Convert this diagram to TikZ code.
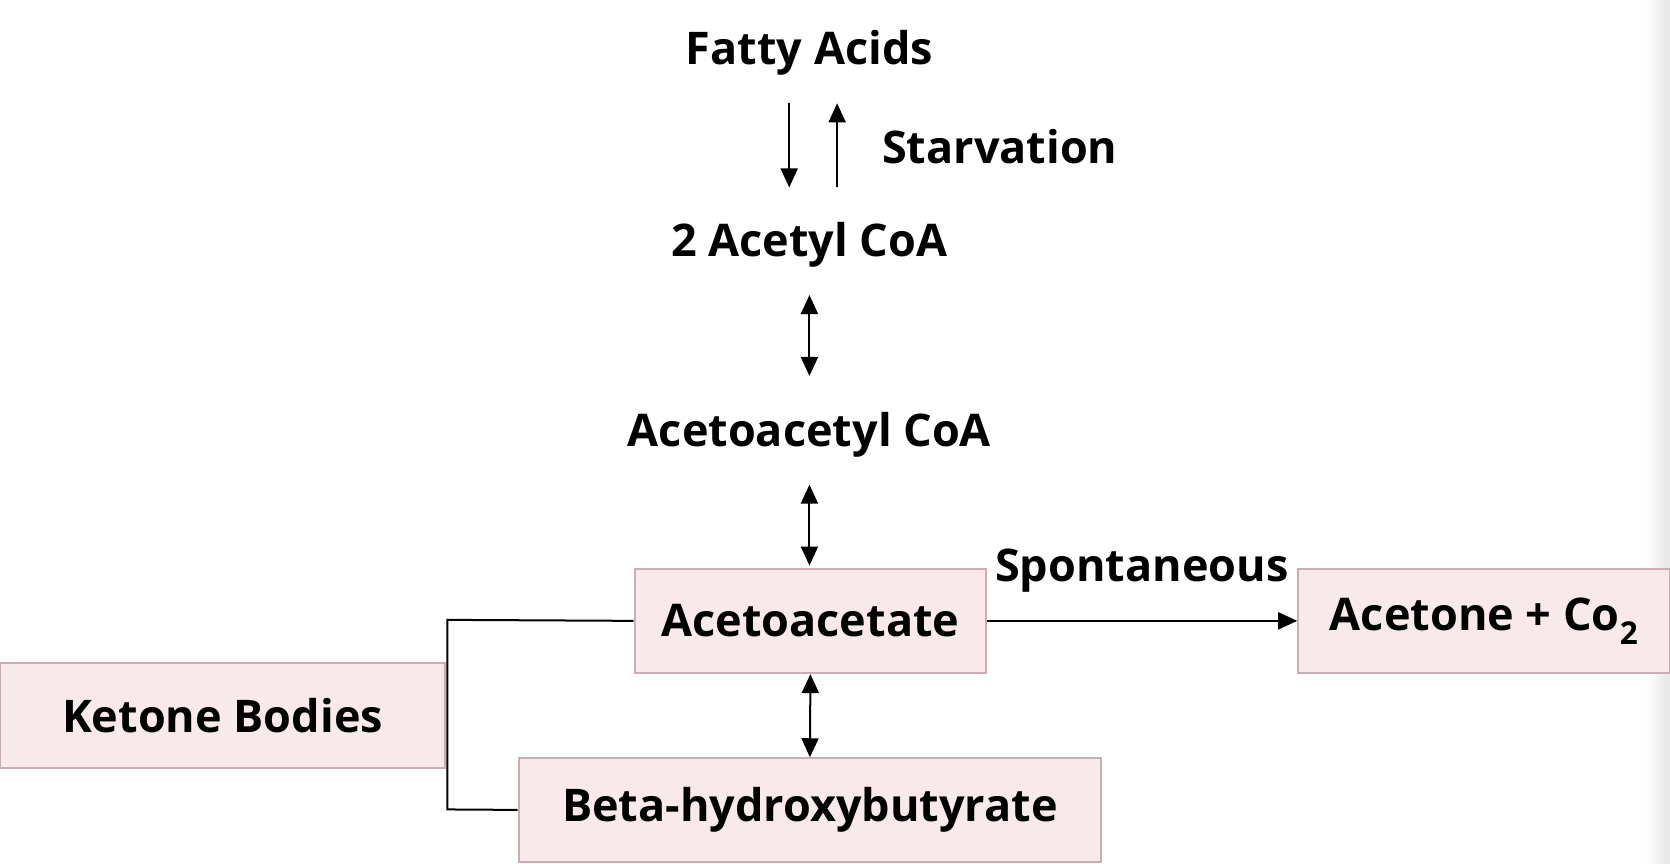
\documentclass[tikz,border=0pt]{standalone}
\usepackage{fontspec}
\setmainfont{Open Sans}
\usetikzlibrary{arrows.meta}
\definecolor{boxfill}{HTML}{F8EAEA}
\definecolor{boxdraw}{HTML}{C9AEB5}
\begin{document}
\begin{tikzpicture}[x=1.065pt,y=-1.065pt,
  lbl/.style={font=\fontsize{45}{52}\selectfont\bfseries, inner sep=0pt},
  box/.style={draw=boxdraw, line width=2pt, fill=boxfill, font=\fontsize{45}{52}\selectfont\bfseries, anchor=north west, inner sep=0pt},
  arr/.style={line width=2pt, -{Triangle[length=19pt,width=17pt]}},
  darr/.style={line width=2pt, {Triangle[length=19pt,width=17pt]}-{Triangle[length=19pt,width=17pt]}}]
\useasboundingbox (0,0) rectangle (1568,811);
\shade[left color=white, right color=black!10] (1545,0) rectangle (1568,811);
\node[lbl] (fa) at (760,50) {Fatty Acids};
\node[lbl, anchor=west] (st) at (828,138) {Starvation};
\node[lbl] (ac) at (760,230) {2 Acetyl CoA};
\node[lbl] (aac) at (760,408) {Acetoacetyl CoA};
\node[box, minimum width=330*1.065pt, minimum height=98*1.065pt] (aa) at (595,533) {Acetoacetate};
\node[box, minimum width=349*1.065pt, minimum height=98*1.065pt] (ace) at (1218,533) {Acetone + Co\textsubscript{2}};
\node[box, minimum width=418*1.065pt, minimum height=98*1.065pt] (kb) at (-1,622) {Ketone Bodies};
\node[box, minimum width=547*1.065pt, minimum height=97*1.065pt] (bh) at (486,711) {Beta-hydroxybutyrate};
\node[lbl] (sp) at (1072,536) {Spontaneous};
\coordinate (d1) at (741,97); \coordinate (d2) at (741,176);
\coordinate (u1) at (786,176); \coordinate (u2) at (786,97);
\draw[arr] (d1) -- (d2);
\draw[arr] (u1) -- (u2);
\draw[darr] (760,277) -- (760,353);
\draw[darr] (760,455) -- (760,531);
\draw[darr] (aa.south) -- (bh.north);
\draw[arr] (aa.east) -- (ace.west);
\draw[line width=2pt] (aa.west) -- (420,582) -- (420,760) -- (bh.west);
\end{tikzpicture}
\end{document}
